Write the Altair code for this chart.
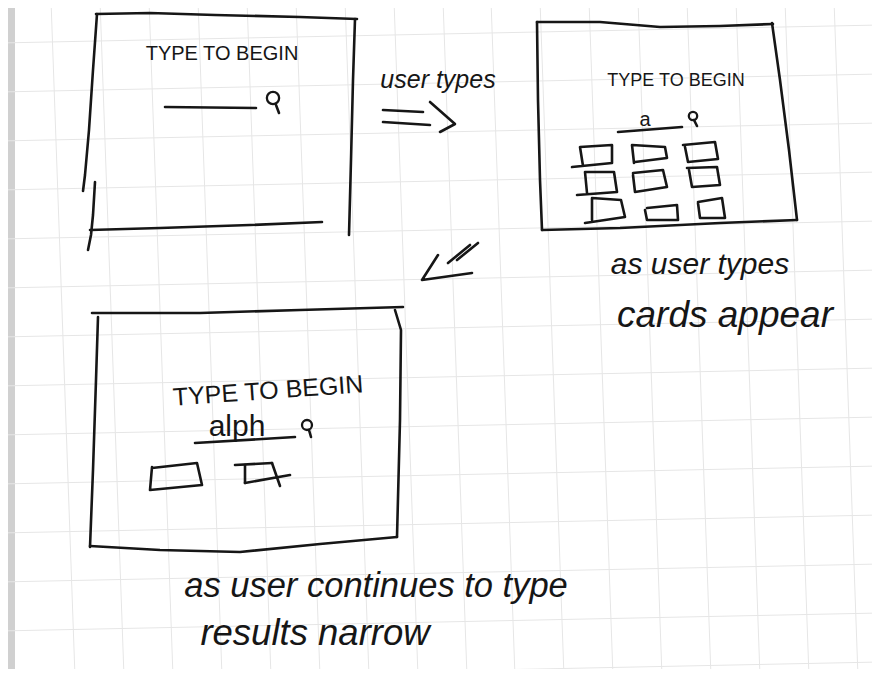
import altair as alt
import pandas as pd

# ---------------- data (reference sketch, pixel frame 880 x 677) ----------------
# faint grid of the notebook paper (slightly rotated): end points of each line
grid_v_top = [51, 100, 149, 198, 247, 296, 345, 394, 443, 491, 540, 589, 638, 687, 736, 785, 834]
grid_v_bottom = [75, 124, 173, 222, 271, 320, 369, 418, 467, 515, 564, 613, 662, 711, 760, 809, 858]
grid_h_left = [43, 92, 141, 190, 239, 288, 337, 386, 435, 484, 533, 582, 631, 680]
grid_h_right = [25, 74, 123, 172, 221, 270, 319, 368, 417, 466, 515, 564, 613, 662]

# pen strokes: name -> list of (x, y)
strokes = {
    # panel 1 (top left)
    "p1_top": [(96, 14), (150, 13), (215, 15), (300, 17), (357, 19)],
    "p1_left": [(97, 14), (93, 70), (89, 130), (85, 175), (83, 191)],
    "p1_right": [(355, 19), (353, 80), (351, 160), (349, 235)],
    "p1_inner": [(95, 182), (93, 215), (91, 235), (88, 250)],
    "p1_bottom": [(90, 230), (160, 228), (250, 225), (322, 222)],
    "p1_search": [(165, 107), (256, 108)],
    "p1_handle": [(276, 105), (279, 113)],
    # arrow "user types" =>
    "a1_l1": [(383, 110), (423, 112)],
    "a1_l2": [(383, 122), (430, 125)],
    "a1_head": [(430, 102), (455, 124), (440, 132)],
    # diagonal arrow
    "a2_head": [(438, 255), (422, 280), (472, 273)],
    "a2_s1": [(448, 263), (470, 245)],
    "a2_s2": [(457, 260), (478, 243)],
    # panel 2 (top right)
    "p2_top": [(537, 22), (600, 22), (660, 27), (720, 26), (773, 24)],
    "p2_left": [(537, 22), (538, 100), (540, 180), (542, 230)],
    "p2_right": [(772, 23), (780, 80), (789, 150), (797, 220)],
    "p2_bottom": [(542, 230), (620, 228), (720, 223), (797, 220)],
    "p2_search": [(618, 132), (682, 127)],
    "p2_handle": [(694, 120), (697, 126)],
    "c1": [(572, 167), (612, 163), (612, 145), (580, 147), (583, 166)],
    "c2": [(635, 162), (667, 158), (665, 147), (632, 145), (634, 163)],
    "c3": [(683, 145), (715, 142), (718, 159), (688, 162), (685, 147)],
    "c4": [(577, 195), (617, 192), (614, 172), (585, 172), (587, 193)],
    "c5": [(633, 173), (663, 170), (667, 187), (635, 192), (633, 175)],
    "c6": [(687, 168), (717, 167), (720, 185), (692, 187), (689, 170)],
    "c7": [(585, 223), (625, 217), (621, 200), (592, 198), (592, 220)],
    "c8": [(647, 208), (677, 205), (678, 220), (647, 220), (645, 210)],
    "c9": [(698, 202), (722, 198), (725, 218), (700, 218), (698, 203)],
    # panel 3 (bottom left)
    "p3_top": [(92, 313), (200, 313), (300, 310), (403, 307)],
    "p3_left": [(98, 317), (96, 380), (93, 470), (90, 547)],
    "p3_right": [(395, 310), (401, 330), (400, 420), (397, 537)],
    "p3_bottom": [(90, 546), (160, 550), (240, 552), (320, 544), (397, 537)],
    "p3_search": [(195, 443), (295, 437)],
    "p3_handle": [(309, 430), (311, 437)],
    "d1": [(152, 467), (150, 490), (202, 485), (197, 463), (152, 468)],
    "d2_top": [(235, 465), (272, 463)],
    "d2_left": [(245, 465), (245, 483)],
    "d2_bottom": [(245, 483), (290, 475)],
    "d2_right": [(272, 463), (280, 486)],
}

# magnifier glass circles
mag_x = [273, 693, 307]
mag_y = [98, 116, 425]

# handwritten texts
labels = ["TYPE TO BEGIN", "TYPE TO BEGIN", "TYPE TO BEGIN", "user types", "a", "alph",
          "as user types", "cards appear", "as user continues to type", "results narrow"]
label_x = [222, 676, 268, 438, 645, 237, 700, 725, 376, 315]
label_y = [54, 81, 391, 88, 126, 436, 274, 327, 597, 645]

# ---------------- styling ----------------
INK = "#161616"
FONT = "Liberation Sans, Arial"
text_style = [
    dict(fontSize=20, baseline="middle"),
    dict(fontSize=18, baseline="middle"),
    dict(fontSize=25, baseline="middle", angle=356),
    dict(fontSize=25, baseline="alphabetic", fontStyle="italic"),
    dict(fontSize=20, baseline="alphabetic"),
    dict(fontSize=30, baseline="alphabetic"),
    dict(fontSize=30, baseline="alphabetic", fontStyle="italic"),
    dict(fontSize=37, baseline="alphabetic", fontStyle="italic"),
    dict(fontSize=34.5, baseline="alphabetic", fontStyle="italic"),
    dict(fontSize=36.5, baseline="alphabetic", fontStyle="italic"),
]
mag_sizes = [150, 70, 100]

xs = alt.Scale(domain=[8, 872], nice=False, zero=False)
ys = alt.Scale(domain=[8, 669], nice=False, zero=False, reverse=True)

# ---------------- layers ----------------
vgrid = pd.DataFrame({"x": grid_v_top, "x2": grid_v_bottom, "y": 0, "y2": 677})
hgrid = pd.DataFrame({"y": grid_h_left, "y2": grid_h_right, "x": 0, "x2": 880})

vlayer = alt.Chart(vgrid).mark_rule(color="#e6e6e6", strokeWidth=1, clip=True).encode(
    x=alt.X("x:Q", scale=xs, axis=None), x2="x2:Q",
    y=alt.Y("y:Q", scale=ys, axis=None), y2="y2:Q")
hlayer = alt.Chart(hgrid).mark_rule(color="#e6e6e6", strokeWidth=1, clip=True).encode(
    x=alt.X("x:Q", scale=xs, axis=None), x2="x2:Q",
    y=alt.Y("y:Q", scale=ys, axis=None), y2="y2:Q")

strip = pd.DataFrame({"x": [0], "x2": [15], "y": [0], "y2": [677]})
strip_layer = alt.Chart(strip).mark_rect(color="#d0d0d0", clip=True).encode(
    x=alt.X("x:Q", scale=xs, axis=None), x2="x2:Q",
    y=alt.Y("y:Q", scale=ys, axis=None), y2="y2:Q")

rows = []
for name, pts in strokes.items():
    for i, (px, py) in enumerate(pts):
        rows.append({"stroke": name, "i": i, "x": px, "y": py})
stroke_df = pd.DataFrame(rows)

ink = alt.Chart(stroke_df).mark_line(
    color=INK, strokeWidth=2.6, strokeCap="round", strokeJoin="round"
).encode(
    x=alt.X("x:Q", scale=xs, axis=None),
    y=alt.Y("y:Q", scale=ys, axis=None),
    detail="stroke:N",
    order="i:Q",
)

layers = [strip_layer, vlayer, hlayer, ink]

mag_df = pd.DataFrame({"x": mag_x, "y": mag_y})
for k in range(len(mag_x)):
    layers.append(
        alt.Chart(mag_df.iloc[[k]]).mark_point(
            shape="circle", filled=False, color=INK, strokeWidth=2.3, size=mag_sizes[k], opacity=1
        ).encode(x=alt.X("x:Q", scale=xs, axis=None), y=alt.Y("y:Q", scale=ys, axis=None))
    )

text_df = pd.DataFrame({"label": labels, "x": label_x, "y": label_y})
for k in range(len(labels)):
    layers.append(
        alt.Chart(text_df.iloc[[k]]).mark_text(
            font=FONT, color=INK, align="center", **text_style[k]
        ).encode(
            x=alt.X("x:Q", scale=xs, axis=None),
            y=alt.Y("y:Q", scale=ys, axis=None),
            text="label:N",
        )
    )

chart = alt.layer(*layers).properties(
    width=864, height=661, padding=0, autosize="none", background="white"
).configure_view(stroke=None)

chart.save("out.html", embed_options={"renderer": "svg", "actions": False})
